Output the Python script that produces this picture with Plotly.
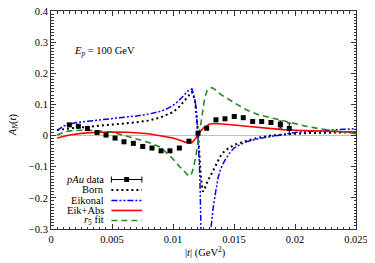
import plotly.graph_objects as go

# ---------------- data ----------------
data_t = [0.0015, 0.00224, 0.00298, 0.00377, 0.00451, 0.00525, 0.00598, 0.00675,
          0.00752, 0.00828, 0.00902, 0.00975, 0.01052, 0.01131, 0.01205, 0.01276,
          0.01352, 0.01426, 0.01502, 0.01576, 0.01653, 0.01727, 0.01803, 0.0188, 0.01953]
data_an = [0.0345, 0.030, 0.0226, 0.0097, 0.0016, -0.008, -0.020, -0.025,
           -0.035, -0.040, -0.049, -0.049, -0.040, -0.018, 0.0074, 0.0235,
           0.0506, 0.0539, 0.0613, 0.0574, 0.0452, 0.0452, 0.042, 0.0355, 0.0232]
data_err = [0.003, 0.003, 0.003, 0.003, 0.003, 0.003, 0.003, 0.003,
            0.003, 0.003, 0.003, 0.003, 0.003, 0.003, 0.003, 0.003,
            0.003, 0.003, 0.003, 0.003, 0.004, 0.004, 0.005, 0.011, 0.017]

born_t = [0.0005, 0.001, 0.002, 0.003, 0.004, 0.005, 0.006, 0.007, 0.008, 0.009,
          0.0095, 0.010, 0.0105, 0.011, 0.0113, 0.01155, 0.0118, 0.0119, 0.0120,
          0.0121, 0.0122, 0.0123, 0.01245, 0.0126, 0.0128, 0.0130, 0.0133, 0.0136,
          0.014, 0.0145, 0.015, 0.016, 0.017, 0.018, 0.019, 0.020, 0.021, 0.022,
          0.023, 0.024, 0.025]
born_an = [0.018, 0.021, 0.025, 0.028, 0.031, 0.035, 0.039, 0.043, 0.048, 0.059,
           0.066, 0.075, 0.092, 0.115, 0.13, 0.14, 0.113, 0.08, 0.035,
           -0.02, -0.08, -0.14, -0.18, -0.17, -0.15, -0.135, -0.113, -0.091,
           -0.058, -0.042, -0.03, -0.017, -0.007, 0.0, 0.004, 0.006, 0.008, 0.009,
           0.010, 0.010, 0.011]

eik_t = [0.0005, 0.001, 0.0015, 0.002, 0.003, 0.004, 0.005, 0.006, 0.007, 0.008,
         0.009, 0.0095, 0.010, 0.0105, 0.011, 0.0113, 0.01155, 0.0118, 0.0119,
         0.0120, 0.0121, 0.0122, 0.0123, 0.01235, 0.01305, 0.0132, 0.0133, 0.0135,
         0.0137, 0.0139, 0.0142, 0.0146, 0.015, 0.0155, 0.016, 0.017, 0.018, 0.019,
         0.020, 0.021, 0.022, 0.023, 0.024, 0.025]
eik_an = [0.016, 0.030, 0.037, 0.041, 0.046, 0.050, 0.054, 0.058, 0.063, 0.069,
          0.078, 0.086, 0.097, 0.113, 0.133, 0.146, 0.150, 0.115, 0.085,
          0.030, -0.040, -0.130, -0.250, -0.400, -0.320, -0.260, -0.230, -0.180,
          -0.135, -0.108, -0.083, -0.058, -0.040, -0.029, -0.020, -0.010, -0.003, 0.005,
          0.010, 0.013, 0.016, 0.018, 0.020, 0.022]

abs_t = [0.0005, 0.0015, 0.0025, 0.0035, 0.005, 0.0063, 0.008, 0.009, 0.0095,
         0.010, 0.0105, 0.011, 0.0114, 0.0116, 0.0118, 0.012, 0.0122, 0.0125,
         0.0128, 0.013, 0.0135, 0.014, 0.015, 0.016, 0.017, 0.018, 0.019, 0.020,
         0.021, 0.022, 0.023, 0.024, 0.025]
abs_an = [-0.0075, 0.002, 0.007, 0.010, 0.011, 0.0106, 0.006, 0.0, -0.003,
          -0.008, -0.014, -0.021, -0.024, -0.021, -0.012, 0.0, 0.011, 0.025,
          0.033, 0.037, 0.039, 0.038, 0.034, 0.030, 0.026, 0.022, 0.019, 0.017,
          0.016, 0.015, 0.014, 0.012, 0.011]

r5_t = [0.0005, 0.001, 0.0015, 0.0025, 0.0035, 0.005, 0.0063, 0.0072, 0.008, 0.009,
        0.0095, 0.010, 0.0105, 0.011, 0.0113, 0.0115, 0.0117, 0.0119, 0.0121,
        0.0122, 0.0124, 0.0126, 0.0128, 0.0131, 0.0133, 0.014, 0.015, 0.016,
        0.017, 0.018, 0.019, 0.020, 0.021, 0.022, 0.023, 0.024, 0.025]
r5_an = [0.002, 0.010, 0.015, 0.017, 0.016, 0.011, -0.003, -0.012, -0.022, -0.038,
         -0.057, -0.075, -0.098, -0.120, -0.130, -0.125, -0.100, -0.060, -0.005,
         0.025, 0.080, 0.120, 0.145, 0.154, 0.152, 0.130, 0.106, 0.083,
         0.067, 0.057, 0.047, 0.037, 0.029, 0.022, 0.016, 0.011, 0.006]

x_tickvals = [0, 0.005, 0.01, 0.015, 0.02, 0.025]
x_ticktext = ["0", "0.005", "0.01", "0.015", "0.02", "0.025"]
y_tickvals = [-0.3, -0.2, -0.1, 0, 0.1, 0.2, 0.3, 0.4]
y_ticktext = ["\u22120.3", "\u22120.2", "\u22120.1", "0", "0.1", "0.2", "0.3", "0.4"]

legend_labels = ["<i>pAu</i> data", "Born", "Eikonal", "Eik+Abs", "<i>r</i><sub>5</sub> fit"]

# ---------------- styles ----------------
FONT = "Liberation Serif"
BLACK = "#000000"
BLUE = "#0000ff"
RED = "#ff0000"
GREEN = "#228b22"

styles = [
    dict(color=BLACK, width=2, dash="2px,3px"),
    dict(color=BLUE, width=1.5, dash="6px,2px,2px,2px,2px,2px"),
    dict(color=RED, width=1.6, dash="solid"),
    dict(color=GREEN, width=1.6, dash="6px,4px"),
]

fig = go.Figure()

curves = [(born_t, born_an), (eik_t, eik_an), (abs_t, abs_an), (r5_t, r5_an)]
for (tt, aa), st in zip(curves, styles):
    fig.add_trace(go.Scatter(x=tt, y=aa, mode="lines", line=st, showlegend=False,
                             hoverinfo="skip"))

fig.add_trace(go.Scatter(
    x=data_t, y=data_an, mode="markers",
    marker=dict(symbol="square", size=5, color=BLACK),
    error_y=dict(type="data", array=data_err, color=BLACK, thickness=1, width=2),
    showlegend=False))

# ---------------- custom key (gnuplot style: text left of sample) ----------------
row_y = [0.227, 0.179, 0.131, 0.085, 0.039]
txt_right = 0.180
s0, s1 = 0.198, 0.298
shapes = []
annotations = []
for lab, yy in zip(legend_labels, row_y):
    annotations.append(dict(x=txt_right, y=yy, xref="paper", yref="paper", text=lab,
                            showarrow=False, xanchor="right", yanchor="middle",
                            font=dict(family=FONT, size=10.5, color=BLACK)))
y0 = row_y[0]
shapes.append(dict(type="line", xref="paper", yref="paper", x0=s0, x1=s1, y0=y0, y1=y0,
                   line=dict(color=BLACK, width=1)))
for xc in (s0, s1):
    shapes.append(dict(type="line", xref="paper", yref="paper", x0=xc, x1=xc,
                       y0=y0 - 0.014, y1=y0 + 0.014, line=dict(color=BLACK, width=1)))
xm = (s0 + s1) / 2
shapes.append(dict(type="rect", xref="paper", yref="paper", x0=xm - 0.008, x1=xm + 0.008,
                   y0=y0 - 0.0115, y1=y0 + 0.0115, line=dict(width=0), fillcolor=BLACK))
for st, yy in zip(styles, row_y[1:]):
    shapes.append(dict(type="line", xref="paper", yref="paper", x0=s0, x1=s1, y0=yy, y1=yy,
                       line=st))

annotations.append(dict(x=0.174, y=0.812, xref="paper", yref="paper",
                        text="<i>E<sub>p</sub></i> = 100 GeV", showarrow=False,
                        xanchor="center", yanchor="middle",
                        font=dict(family=FONT, size=10.5, color=BLACK)))
# axis titles
annotations.append(dict(x=-0.125, y=0.48, xref="paper", yref="paper",
                        text="<i>A<sub>N</sub></i>(<i>t</i>)", showarrow=False,
                        textangle=-90, xanchor="center", yanchor="middle",
                        font=dict(family=FONT, size=10.5, color=BLACK)))
annotations.append(dict(x=0.505, y=-0.105, xref="paper", yref="paper",
                        text="|<i>t</i>| (GeV<sup>2</sup>)", showarrow=False,
                        xanchor="center", yanchor="middle",
                        font=dict(family=FONT, size=10.5, color=BLACK)))

axis_common = dict(
    showline=True, linecolor="#333333", linewidth=1, mirror="ticks",
    ticks="inside", ticklen=5, tickcolor="#333333", showgrid=False,
    automargin=False, ticklabeloverflow="allow",
    tickfont=dict(family=FONT, size=10.5, color=BLACK),
)

# page body adds an 8px offset, so the figure is sized to fit the window with it
fig.update_layout(
    width=367, height=255,
    margin=dict(l=43, r=19, t=3, b=34),
    paper_bgcolor="white", plot_bgcolor="white",
    shapes=shapes, annotations=annotations,
    xaxis=dict(range=[0, 0.025], tickvals=x_tickvals, ticktext=x_ticktext,
               zeroline=False,
               minor=dict(dtick=0.0005, ticks="inside", ticklen=2.5, tickcolor="#333333"),
               **axis_common),
    yaxis=dict(range=[-0.3, 0.4], tickvals=y_tickvals, ticktext=y_ticktext,
               zeroline=True, zerolinecolor="#bfbfbf", zerolinewidth=1,
               minor=dict(dtick=0.01, ticks="inside", ticklen=2.5, tickcolor="#333333"),
               **axis_common),
)

fig.write_html("out.html")
